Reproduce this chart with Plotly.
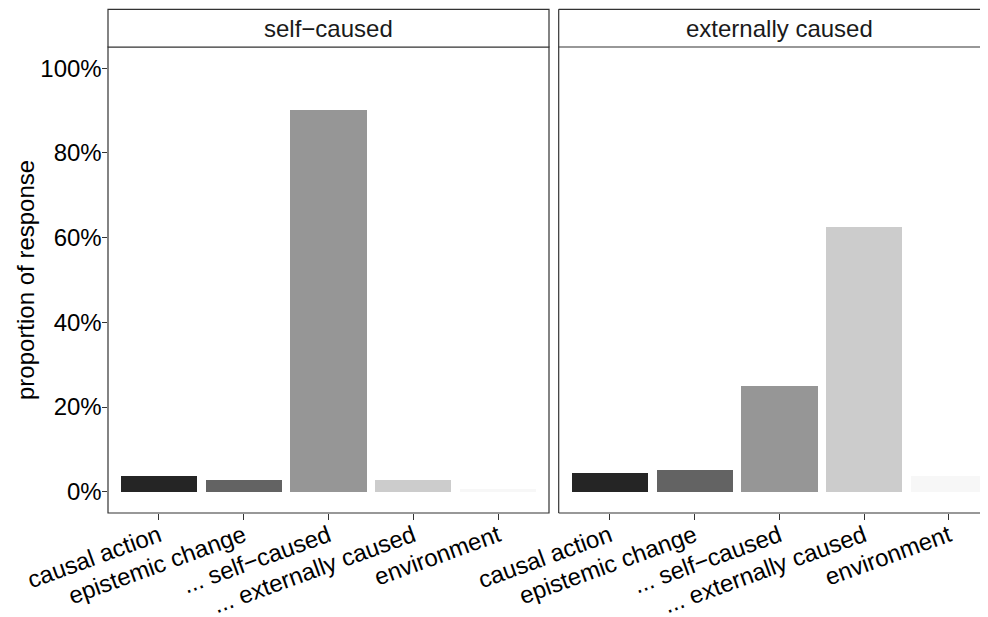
import plotly.graph_objects as go

# ---- data ----
categories = ["causal action", "epistemic change", "... self\u2212caused",
              "... externally caused", "environment"]
self_caused_vals = [0.038, 0.028, 0.901, 0.028, 0.007]
externally_caused_vals = [0.045, 0.052, 0.249, 0.624, 0.038]
panel_titles = ["self\u2212caused", "externally caused"]
bar_colors = ["#252525", "#636363", "#969696", "#CCCCCC", "#F7F7F7"]
y_ticks = [0, 0.2, 0.4, 0.6, 0.8, 1.0]

W, H = 988, 617
FONT = "Liberation Sans, Arial, Helvetica, sans-serif"
FS = 24
LINE = "#333333"
OFF = 8  # page body margin offset

def px(x):
    return (x - OFF) / W

def py(y):
    return 1 - (y - OFF) / H

p1 = (108, 549)      # left panel x extents (page px)
p2 = (558.7, 1000)   # right panel (clipped at page edge)
ptop, pbot = 47, 513
strip_top = 9.3
unit = (p1[1] - p1[0]) / 5.2
page_right = 988

fig = go.Figure()
fig.add_trace(go.Bar(x=categories, y=self_caused_vals, marker=dict(color=bar_colors, line_width=0),
                     width=0.9, xaxis="x", yaxis="y", showlegend=False, hoverinfo="x+y"))
fig.add_trace(go.Bar(x=categories, y=externally_caused_vals, marker=dict(color=bar_colors, line_width=0),
                     width=0.9, xaxis="x2", yaxis="y2", showlegend=False, hoverinfo="x+y"))

axis_common = dict(showgrid=False, zeroline=False, ticks="outside", ticklen=5.5,
                   tickwidth=1.1, tickcolor=LINE, automargin=False,
                   tickfont=dict(family=FONT, size=FS, color="#000000"))

right_units = (page_right - p2[0]) / unit

fig.update_layout(
    width=W, height=H,
    margin=dict(l=0, r=0, t=0, b=0, pad=0),
    paper_bgcolor="white", plot_bgcolor="white",
    bargap=0,
    xaxis=dict(domain=[px(p1[0]), px(p1[1])], type="category", categoryorder="array",
               categoryarray=categories, range=[-0.6, 4.6], tickangle=-20,
               anchor="y", ticklabelstandoff=-7, **axis_common),
    xaxis2=dict(domain=[px(p2[0]), px(page_right)], type="category", categoryorder="array",
                categoryarray=categories, range=[-0.6, -0.6 + right_units], tickangle=-20,
                anchor="y2", ticklabelstandoff=-7, **axis_common),
    yaxis=dict(domain=[py(pbot), py(ptop)], range=[-0.05, 1.05], tickvals=y_ticks,
               tickformat=".0%", anchor="x", ticklabelstandoff=-5, **axis_common),
    yaxis2=dict(domain=[py(pbot), py(ptop)], range=[-0.05, 1.05], tickvals=y_ticks,
                showticklabels=False, ticks="", showgrid=False, zeroline=False,
                automargin=False, anchor="x2"),
)

shapes = []
lw = 1.2
shapes.append(dict(type="rect", xref="paper", yref="paper", x0=px(p1[0]), x1=px(p1[1]),
                   y0=py(pbot), y1=py(ptop), line=dict(color=LINE, width=lw), fillcolor="rgba(0,0,0,0)"))
shapes.append(dict(type="rect", xref="paper", yref="paper", x0=px(p1[0]), x1=px(p1[1]),
                   y0=py(ptop), y1=py(strip_top), line=dict(color=LINE, width=lw), fillcolor="white"))
for (x0, y0, x1, y1) in [(p2[0], pbot, p2[0], strip_top), (p2[0], pbot, page_right + 5, pbot),
                         (p2[0], ptop, page_right + 5, ptop), (p2[0], strip_top, page_right + 5, strip_top)]:
    shapes.append(dict(type="line", xref="paper", yref="paper", x0=px(x0), x1=px(x1),
                       y0=py(y0), y1=py(y1), line=dict(color=LINE, width=lw)))
fig.update_layout(shapes=shapes)

strip_y = py((strip_top + ptop) / 2)
annotations = [
    dict(text=panel_titles[0], x=px((p1[0] + p1[1]) / 2), y=strip_y, xref="paper", yref="paper",
         showarrow=False, xanchor="center", yanchor="middle",
         font=dict(family=FONT, size=FS, color="#1a1a1a")),
    dict(text=panel_titles[1], x=px((p2[0] + p2[1]) / 2), y=strip_y, xref="paper", yref="paper",
         showarrow=False, xanchor="center", yanchor="middle",
         font=dict(family=FONT, size=FS, color="#1a1a1a")),
    dict(text="proportion of response", x=px(25), y=py((ptop + pbot) / 2), xref="paper", yref="paper",
         showarrow=False, textangle=-90, xanchor="center", yanchor="middle",
         font=dict(family=FONT, size=FS, color="#000000")),
]
fig.update_layout(annotations=annotations)

fig.write_html("out.html")
